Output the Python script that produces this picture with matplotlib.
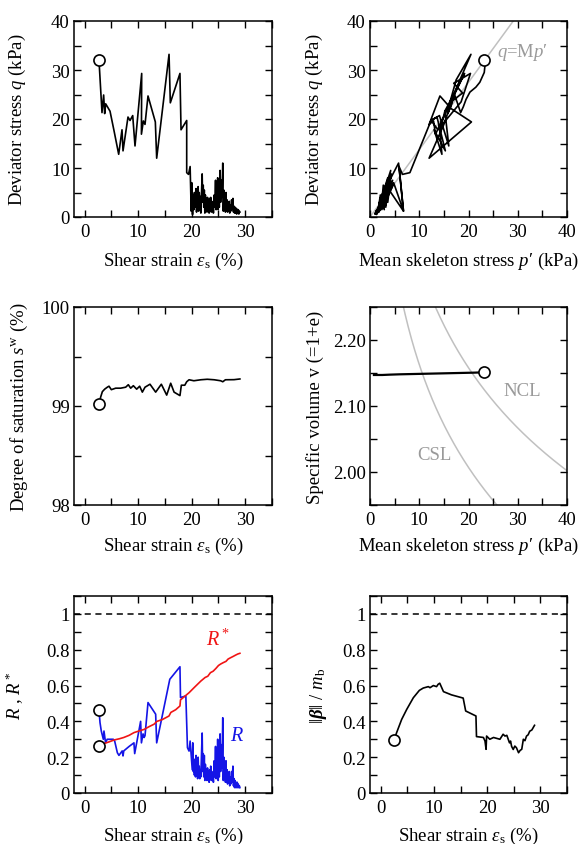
import matplotlib
matplotlib.use("Agg")
import matplotlib.pyplot as plt
import numpy as np
from matplotlib.ticker import MultipleLocator, FixedLocator, FormatStrFormatter

plt.rcParams['font.family'] = ['Liberation Serif', 'DejaVu Serif']
plt.rcParams['mathtext.fontset'] = 'custom'
plt.rcParams['mathtext.rm'] = 'Liberation Serif'
plt.rcParams['mathtext.it'] = 'Liberation Serif:italic'
plt.rcParams['mathtext.bf'] = 'Liberation Serif:bold:italic'
plt.rcParams['mathtext.sf'] = 'Liberation Serif'

# ---------------- data ----------------
# Panel 1/2: strain, deviator stress q, mean skeleton stress p'
strain_q = [2.67, 2.72, 2.80, 2.91, 2.96, 3.01, 3.09, 3.17, 3.23, 3.54, 3.73, 3.92,
            4.73, 5.48, 6.35, 6.97, 7.16, 8.09, 8.47, 8.97, 9.40, 10.00, 10.65, 10.60,
            10.96, 11.27, 11.83, 12.50, 13.20, 13.45, 14.20, 15.00, 15.76, 15.89, 16.00,
            16.60, 17.20, 17.80, 17.90, 18.00, 19.06, 19.06, 19.40,
            19.70,
            19.90, 20.00, 20.05, 20.15, 20.30, 20.40, 20.50, 20.60, 20.70, 20.80, 20.90,
            21.00, 21.10, 21.20, 21.30, 21.40, 21.50, 21.60, 21.70, 21.85, 21.95, 22.05,
            22.15, 22.25, 22.35, 22.45, 22.55, 22.65, 22.75, 22.85, 22.95, 23.05, 23.15,
            23.25, 23.35, 23.45, 23.55, 23.65, 23.75, 23.85, 23.95, 24.05, 24.20, 24.30,
            24.45, 24.55, 24.65, 24.75, 24.85, 24.95, 25.05, 25.15, 25.30, 25.40, 25.55,
            25.65, 25.80, 25.90, 26.00, 26.10, 26.20, 26.30, 26.40, 26.50, 26.60, 26.70,
            26.80, 26.90, 27.00, 27.10, 27.20, 27.30, 27.45, 27.55, 27.70, 27.80, 27.90,
            28.00, 28.10, 28.20, 28.30, 28.40, 28.50, 28.60, 28.70, 28.80, 28.90, 29.00]
q_dev = [32.0, 31.0, 29.5, 27.5, 26.5, 25.5, 24.0, 22.5, 21.3, 24.9, 21.1, 23.1,
         21.6, 17.6, 12.8, 17.8, 13.5, 20.4, 19.7, 20.7, 14.5, 21.6, 29.3, 16.9,
         19.6, 18.9, 24.7, 22.1, 19.4, 12.0, 18.9, 26.2, 33.2, 28.0, 23.3,
         25.3, 27.3, 29.3, 23.5, 17.8, 19.7, 9.05, 8.7,
         10.3,
         1.2, 7.0, 3.0, 0.5, 4.5, 1.5, 5.0, 2.0, 4.0, 5.8, 1.0,
         4.0, 2.0, 6.2, 1.2, 5.0, 2.5, 4.2, 0.8, 5.5, 8.8, 3.0,
         6.5, 2.0, 5.5, 0.8, 4.5, 1.5, 3.8, 1.0, 4.0, 1.5, 3.5,
         0.8, 3.8, 1.8, 4.0, 1.0, 3.2, 1.5, 3.0, 0.8, 4.5, 2.0,
         7.5, 1.5, 6.0, 2.5, 8.0, 1.5, 6.5, 2.0, 9.5, 3.0, 7.5,
         4.0, 11.0, 1.2, 5.5, 2.0, 4.5, 1.0, 5.0, 1.5, 3.5, 1.0,
         3.0, 1.5, 3.2, 0.8, 2.5, 1.2, 3.5, 1.5, 3.8, 1.0, 2.2,
         0.8, 2.0, 0.8, 1.8, 0.6, 1.6, 0.8, 1.5, 0.6, 1.2, 1.0]
p_eff = [23.1, 23.35, 23.2, 22.3, 21.5, 20.3, 19.5, 18.95, 18.4, 17.2, 15.8, 16.6,
         15.2, 14.2, 14.6, 13.0, 15.3, 13.6, 12.4, 14.1, 16.0, 15.2, 19.2, 13.3,
         12.9, 12.0, 14.2, 16.5, 20.6, 12.0, 15.0, 17.5, 20.5, 17.5, 16.2,
         18.8, 17.0, 20.4, 18.5, 13.8, 12.4, 8.1, 6.6,
         5.9,
         6.8, 4.8, 2.4, 1.3, 2.8, 1.8, 3.5, 2.0, 3.3, 3.0, 1.6,
         2.4, 2.8, 3.6, 1.9, 2.6, 3.2, 2.2, 1.5, 2.8, 4.3, 3.6,
         2.7, 2.3, 3.4, 1.3, 2.5, 2.9, 2.0, 1.6, 3.1, 1.8, 2.4,
         1.4, 2.9, 2.1, 2.6, 1.7, 2.8, 1.9, 2.3, 1.4, 2.6, 3.2,
         3.9, 2.0, 4.4, 1.9, 3.6, 2.4, 4.7, 1.8, 4.2, 2.9, 4.6,
         2.2, 5.8, 6.8, 3.9, 2.6, 2.1, 1.8, 3.4, 1.6, 2.7, 1.5,
         2.5, 2.0, 2.4, 1.3, 2.1, 1.6, 2.7, 1.9, 2.6, 1.4, 2.0,
         1.2, 1.8, 1.3, 1.6, 1.1, 1.5, 1.2, 1.4, 1.0, 1.3, 1.2]
M_slope = 1.375
p_line = [0.0, 40.0]

# Panel 3: degree of saturation
strain_sw = [2.67, 2.98, 3.30, 3.73, 4.23, 4.54, 4.98, 5.79, 6.72, 7.66, 8.15, 8.59,
             9.09, 9.71, 10.27, 10.77, 11.27, 12.20, 13.26, 14.32, 15.32, 16.07, 16.70,
             17.80, 18.06, 18.70, 19.06, 19.50, 20.40, 21.70, 22.90, 24.20, 25.40, 25.80,
             26.30, 27.90, 29.00]
sw = [99.02, 99.09, 99.145, 99.17, 99.19, 99.20, 99.165, 99.18, 99.18, 99.19, 99.215, 99.18,
      99.205, 99.17, 99.20, 99.14, 99.19, 99.22, 99.14, 99.22, 99.11, 99.23, 99.14,
      99.105, 99.21, 99.21, 99.245, 99.265, 99.255, 99.265, 99.27, 99.265, 99.255, 99.245,
      99.265, 99.266, 99.273]

# Panel 4: specific volume
p_v = [23.1, 21.0, 18.0, 15.0, 12.0, 9.0, 6.0, 4.0, 2.5, 1.5, 0.8]
v_spec = [2.151, 2.1505, 2.150, 2.1495, 2.149, 2.1485, 2.148, 2.1475, 2.147, 2.147, 2.147]
lam = 0.225
N_ncl = 2.832
Gamma_csl = 2.681

# Panel 5: R and R*
strain_R = [2.67, 2.86, 3.10, 3.48, 3.60, 3.90, 4.20, 5.35, 5.60, 6.10, 6.40, 7.00, 7.16,
            7.30, 8.30, 9.20, 9.34, 10.45, 10.60, 10.90, 11.10, 11.27, 11.83, 13.26,
            13.45, 15.90, 17.80, 17.90, 18.90, 19.20, 19.50, 19.70,
            20.10, 20.20, 20.30, 20.40, 20.50, 20.60, 20.70, 20.80, 20.90, 21.00, 21.10,
            21.20, 21.30, 21.40, 21.50, 21.60, 21.70, 21.85, 21.95, 22.05, 22.15, 22.25,
            22.35, 22.45, 22.55, 22.65, 22.75, 22.85, 22.95, 23.05, 23.15, 23.25, 23.35,
            23.45, 23.55, 23.65, 23.75, 23.85, 23.95, 24.05, 24.20, 24.30, 24.45, 24.55,
            24.65, 24.75, 24.85, 24.95, 25.05, 25.15, 25.30, 25.40, 25.55, 25.65, 25.80,
            25.90, 26.00, 26.10, 26.20, 26.30, 26.40, 26.50, 26.60, 26.70, 26.80, 26.90,
            27.00, 27.10, 27.20, 27.30, 27.45, 27.55, 27.70, 27.80, 27.90, 28.00, 28.10,
            28.20, 28.30, 28.40, 28.50, 28.60, 28.70, 28.80, 28.90, 29.00]
R_val = [0.462, 0.393, 0.346, 0.300, 0.346, 0.280, 0.300, 0.300, 0.290, 0.225, 0.210,
         0.235, 0.207, 0.235, 0.260, 0.280, 0.220, 0.400, 0.280, 0.330, 0.310, 0.320,
         0.505, 0.440, 0.280, 0.635, 0.705, 0.533, 0.542, 0.253, 0.234, 0.290,
         0.13, 0.28, 0.12, 0.19, 0.10, 0.16, 0.09, 0.21, 0.10, 0.17, 0.08,
         0.20, 0.10, 0.15, 0.08, 0.13, 0.09, 0.24, 0.335, 0.12, 0.22, 0.09,
         0.21, 0.07, 0.16, 0.09, 0.13, 0.07, 0.14, 0.08, 0.12, 0.06, 0.13,
         0.08, 0.15, 0.07, 0.12, 0.08, 0.10, 0.06, 0.18, 0.09, 0.26, 0.08,
         0.22, 0.10, 0.30, 0.07, 0.24, 0.09, 0.33, 0.12, 0.27, 0.14, 0.42,
         0.07, 0.20, 0.09, 0.17, 0.06, 0.18, 0.06, 0.13, 0.05, 0.11, 0.06,
         0.12, 0.04, 0.09, 0.05, 0.12, 0.06, 0.15, 0.04, 0.08, 0.03, 0.07,
         0.03, 0.06, 0.03, 0.06, 0.03, 0.05, 0.03, 0.04, 0.03]
strain_Rs = [3.2, 4.5, 5.5, 6.5, 7.3, 8.3, 9.2, 10.0, 11.1, 12.0, 12.95, 13.5, 14.5,
             15.75, 16.1, 17.0, 17.8, 17.9, 18.5, 19.5, 20.5, 21.7, 22.5, 23.0, 23.5,
             24.0, 24.5, 25.0, 25.4, 25.9, 26.4, 26.8, 27.3, 27.7, 28.2, 28.6, 29.0]
R_star = [0.272, 0.285, 0.296, 0.303, 0.310, 0.322, 0.337, 0.345, 0.355, 0.370, 0.384,
          0.400, 0.410, 0.430, 0.450, 0.465, 0.486, 0.520, 0.535, 0.560, 0.590, 0.625,
          0.645, 0.652, 0.672, 0.680, 0.695, 0.712, 0.720, 0.728, 0.735, 0.748, 0.756,
          0.762, 0.770, 0.776, 0.780]
R_start = [0.462, 0.264]

# Panel 6: ||beta|| / m_b
strain_b = [2.5, 3.0, 3.95, 4.9, 6.14, 7.27, 8.0, 8.96, 9.27, 9.9, 10.5, 10.8, 11.1,
            11.8, 13.3, 15.5, 15.97, 17.9, 18.0, 19.3, 19.6, 19.8, 19.9, 20.5, 21.2,
            21.8, 22.4, 23.0, 23.35, 23.7, 24.2, 24.4, 24.6, 24.9, 25.2, 25.5, 25.9,
            26.2, 26.5, 26.8, 27.1, 27.4, 27.7, 28.0, 28.4, 28.9]
beta_n = [0.294, 0.337, 0.411, 0.467, 0.532, 0.573, 0.586, 0.594, 0.588, 0.600, 0.594,
          0.607, 0.613, 0.566, 0.548, 0.530, 0.458, 0.430, 0.315, 0.310, 0.290, 0.244,
          0.318, 0.300, 0.310, 0.305, 0.300, 0.328, 0.318, 0.322, 0.280, 0.290, 0.260,
          0.243, 0.262, 0.253, 0.225, 0.238, 0.244, 0.300, 0.292, 0.318, 0.325, 0.345,
          0.352, 0.378]

# ---------------- figure ----------------
fig = plt.figure(figsize=(5.84, 8.45), dpi=100)
LC, RC = 74 / 584, 370 / 584
WL, WR = 198 / 584, 197 / 584
rows = [(1 - 218 / 845, 196 / 845), (1 - 506 / 845, 198 / 845), (1 - 794 / 845, 197 / 845)]

axs = {}
for i, (b, h) in enumerate(rows):
    axs[(i, 0)] = fig.add_axes([LC, b, WL, h])
    axs[(i, 1)] = fig.add_axes([RC, b, WR, h])

FS = 13.5
xlab_strain = r"Shear strain $\varepsilon_{\mathrm{s}}$ (%)"
xlab_p = "Mean skeleton stress $p$\u2032 (kPa)"
lw = 1.2
circ = dict(marker='o', ms=8, mfc='white', mec='black', mew=1.2, ls='none', zorder=5)
GRAY_LINE = '#c0c0c0'
GRAY_TEXT = '#9a9a9a'


def style(ax):
    ax.tick_params(which='both', direction='in', top=True, right=True,
                   length=5, width=1.0, labelsize=FS)
    ax.tick_params(axis='x', which='both', pad=4)
    ax.tick_params(axis='y', which='both', pad=3)
    for s in ax.spines.values():
        s.set_linewidth(1.1)


# Panel 1
ax = axs[(0, 0)]
ax.plot(strain_q, q_dev, color='black', lw=lw)
ax.plot(strain_q[0], q_dev[0], **circ)
ax.set_xlim(-2, 35)
ax.set_ylim(0, 40)
ax.xaxis.set_major_locator(FixedLocator([0, 10, 20, 30]))
ax.xaxis.set_minor_locator(MultipleLocator(5))
ax.yaxis.set_major_locator(MultipleLocator(10))
ax.yaxis.set_minor_locator(MultipleLocator(5))
ax.set_xlabel(xlab_strain, fontsize=FS)
ax.set_ylabel(r"Deviator stress $q$ (kPa)", fontsize=FS)
ax.xaxis.set_label_coords(0.5, -0.17)
ax.yaxis.set_label_coords(-0.232, 0.5)
style(ax)

# Panel 2
ax = axs[(0, 1)]
ax.plot(p_line, [M_slope * x for x in p_line], color=GRAY_LINE, lw=1.1, zorder=1)
ax.plot(p_eff, q_dev, color='black', lw=lw, zorder=2)
ax.plot(p_eff[0], q_dev[0], **circ)
ax.text(30.9, 33.7, "$q$=M$p$\u2032", color=GRAY_TEXT, fontsize=FS, ha='center', va='center')
ax.set_xlim(0, 40)
ax.set_ylim(0, 40)
ax.xaxis.set_major_locator(MultipleLocator(10))
ax.xaxis.set_minor_locator(MultipleLocator(5))
ax.yaxis.set_major_locator(FixedLocator([10, 20, 30, 40]))
ax.yaxis.set_minor_locator(MultipleLocator(5))
ax.set_xlabel(xlab_p, fontsize=FS)
ax.set_ylabel(r"Deviator stress $q$ (kPa)", fontsize=FS)
ax.xaxis.set_label_coords(0.5, -0.17)
ax.yaxis.set_label_coords(-0.228, 0.5)
style(ax)

# Panel 3
ax = axs[(1, 0)]
ax.plot(strain_sw, sw, color='black', lw=lw)
ax.plot(strain_sw[0], sw[0], **circ)
ax.set_xlim(-2, 35)
ax.set_ylim(98, 100)
ax.xaxis.set_major_locator(FixedLocator([0, 10, 20, 30]))
ax.xaxis.set_minor_locator(MultipleLocator(5))
ax.yaxis.set_major_locator(MultipleLocator(1))
ax.yaxis.set_minor_locator(MultipleLocator(0.5))
ax.set_xlabel(xlab_strain, fontsize=FS)
ax.set_ylabel(r"Degree of saturation $s^{\mathrm{w}}$ (%)", fontsize=FS)
ax.xaxis.set_label_coords(0.5, -0.152)
ax.yaxis.set_label_coords(-0.22, 0.5)
style(ax)

# Panel 4
ax = axs[(1, 1)]
pp = np.linspace(0.5, 40, 300)
ax.plot(pp, N_ncl - lam * np.log(pp), color=GRAY_LINE, lw=1.1, zorder=1)
ax.plot(pp, Gamma_csl - lam * np.log(pp), color=GRAY_LINE, lw=1.1, zorder=1)
ax.plot(p_v, v_spec, color='black', lw=1.6, zorder=2)
ax.plot(p_v[0], v_spec[0], **circ)
ax.text(30.9, 2.124, "NCL", color=GRAY_TEXT, fontsize=FS, ha='center', va='center')
ax.text(13.1, 2.026, "CSL", color=GRAY_TEXT, fontsize=FS, ha='center', va='center')
ax.set_xlim(0, 40)
ax.set_ylim(1.95, 2.25)
ax.xaxis.set_major_locator(MultipleLocator(10))
ax.xaxis.set_minor_locator(MultipleLocator(5))
ax.yaxis.set_major_locator(FixedLocator([2.0, 2.1, 2.2]))
ax.yaxis.set_minor_locator(FixedLocator([1.95, 2.05, 2.15, 2.25]))
ax.yaxis.set_major_formatter(FormatStrFormatter('%.2f'))
ax.set_xlabel(xlab_p, fontsize=FS)
ax.set_ylabel("Specific volume v (=1+e)", fontsize=FS)
ax.xaxis.set_label_coords(0.5, -0.152)
ax.yaxis.set_label_coords(-0.234, 0.5)
style(ax)

# Panel 5
ax = axs[(2, 0)]
ax.axhline(1.0, color='black', ls=(0, (4, 3)), lw=1.1)
ax.plot(strain_R, R_val, color='#1414e6', lw=lw)
ax.plot(strain_Rs, R_star, color='#f01414', lw=lw)
ax.plot([strain_R[0], strain_R[0]], R_start, **circ)
ax.text(24.9, 0.86, r"$R^*$", color='#f01414', fontsize=FS + 1, ha='center', va='center')
ax.text(28.5, 0.32, r"$R$", color='#1414e6', fontsize=FS + 1, ha='center', va='center')
ax.set_xlim(-2, 35)
ax.set_ylim(0, 1.1)
ax.xaxis.set_major_locator(FixedLocator([0, 10, 20, 30]))
ax.xaxis.set_minor_locator(MultipleLocator(5))
ax.yaxis.set_major_locator(FixedLocator([0, 0.2, 0.4, 0.6, 0.8, 1.0]))
ax.yaxis.set_minor_locator(MultipleLocator(0.1))
ax.set_yticklabels(["0", "0.2", "0.4", "0.6", "0.8", "1"])
ax.set_xlabel(xlab_strain, fontsize=FS)
ax.set_ylabel(r"$R$ , $R^*$", fontsize=FS)
ax.xaxis.set_label_coords(0.5, -0.16)
ax.yaxis.set_label_coords(-0.24, 0.5)
style(ax)

# Panel 6
ax = axs[(2, 1)]
ax.axhline(1.0, color='black', ls=(0, (4, 3)), lw=1.1)
ax.plot(strain_b, beta_n, color='black', lw=lw)
ax.plot(strain_b[0], beta_n[0], **circ)
ax.set_xlim(-2, 35)
ax.set_ylim(0, 1.1)
ax.xaxis.set_major_locator(FixedLocator([0, 10, 20, 30]))
ax.xaxis.set_minor_locator(MultipleLocator(5))
ax.yaxis.set_major_locator(FixedLocator([0, 0.2, 0.4, 0.6, 0.8, 1.0]))
ax.yaxis.set_minor_locator(MultipleLocator(0.1))
ax.set_yticklabels(["0", "0.2", "0.4", "0.6", "0.8", "1"])
ax.set_xlabel(xlab_strain, fontsize=FS)
ax.set_ylabel(r"$\Vert\mathbf{\beta}\Vert$ / $m_{\mathrm{b}}$", fontsize=FS)
ax.xaxis.set_label_coords(0.5, -0.16)
ax.yaxis.set_label_coords(-0.21, 0.5)
style(ax)

fig.savefig("out.png", dpi=100)
